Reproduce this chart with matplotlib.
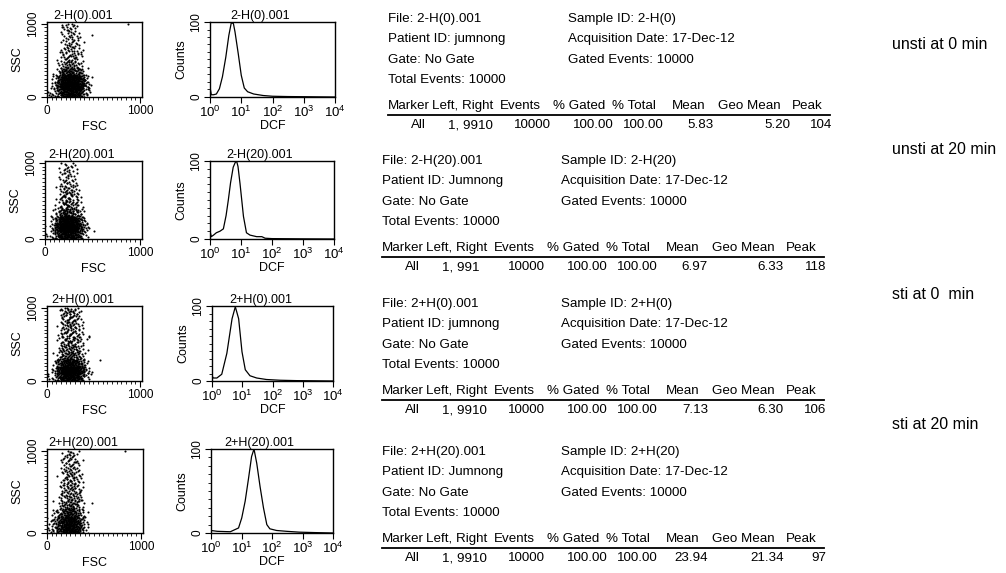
import numpy as np
import matplotlib
matplotlib.use("Agg")
import matplotlib.pyplot as plt
from matplotlib.patches import Rectangle
from matplotlib.ticker import FixedLocator, NullFormatter, LogLocator, FixedFormatter

plt.rcParams['font.family'] = ['Liberation Sans', 'DejaVu Sans']
plt.rcParams['mathtext.fontset'] = 'custom'
plt.rcParams['mathtext.rm'] = 'Liberation Sans'

W, H = 1006, 573

# ---------------------------------------------------------------- sample info
files = ["2-H(0).001", "2-H(20).001", "2+H(0).001", "2+H(20).001"]
sample_ids = ["2-H(0)", "2-H(20)", "2+H(0)", "2+H(20)"]
patient_ids = ["jumnong", "Jumnong", "jumnong", "Jumnong"]
conditions = ["unsti at 0 min", "unsti at 20 min", "sti at 0  min", "sti at 20 min"]
acq_date = "17-Dec-12"
left_right = ["1, 9910", "1, 991", "1, 9910", "1, 9910"]
events = ["10000", "10000", "10000", "10000"]
pct_gated = ["100.00", "100.00", "100.00", "100.00"]
pct_total = ["100.00", "100.00", "100.00", "100.00"]
means = ["5.83", "6.97", "7.13", "23.94"]
geo_means = ["5.20", "6.33", "6.30", "21.34"]
peaks = ["104", "118", "106", "97"]

# ------------------------------------------------ FSC/SSC dot-plot densities
# dots per cell; columns = FSC 0-50, 50-100, ... 450-500,
# rows = SSC 0-100 (first) up to 900-1000 (last)
fsc_bin = 50
ssc_bin = 100
dens_a = [[2, 4, 12, 24, 30, 30, 24, 14, 5, 1],
          [1, 6, 20, 40, 46, 46, 40, 28, 10, 2],
          [0, 3, 14, 32, 38, 38, 32, 20, 6, 1],
          [0, 1, 6, 14, 18, 18, 13, 7, 2, 0],
          [0, 0, 2, 6, 9, 9, 6, 3, 0, 0],
          [0, 0, 1, 5, 7, 7, 5, 2, 0, 0],
          [0, 0, 1, 4, 6, 6, 4, 2, 0, 0],
          [0, 0, 0, 3, 5, 5, 4, 1, 0, 0],
          [0, 0, 0, 3, 5, 5, 3, 1, 0, 0],
          [0, 0, 0, 4, 6, 5, 2, 0, 0, 0]]
dens_b = [[2, 4, 14, 28, 36, 34, 26, 12, 3, 0],
          [1, 7, 22, 44, 52, 50, 38, 20, 6, 1],
          [0, 4, 14, 34, 42, 40, 28, 14, 4, 0],
          [0, 1, 5, 14, 18, 16, 10, 5, 1, 0],
          [0, 0, 2, 8, 10, 10, 6, 3, 0, 0],
          [0, 0, 1, 7, 9, 8, 5, 2, 0, 0],
          [0, 0, 1, 6, 8, 7, 4, 1, 0, 0],
          [0, 0, 0, 4, 6, 5, 3, 0, 0, 0],
          [0, 0, 0, 4, 5, 4, 2, 0, 0, 0],
          [0, 0, 0, 3, 5, 4, 2, 0, 0, 0]]
dens_c = [[2, 4, 14, 28, 34, 34, 26, 14, 4, 1],
          [1, 6, 20, 40, 48, 46, 36, 22, 7, 1],
          [0, 3, 11, 22, 28, 28, 22, 12, 3, 0],
          [0, 1, 4, 10, 12, 12, 10, 5, 1, 0],
          [0, 0, 3, 8, 9, 10, 8, 4, 1, 0],
          [0, 0, 2, 7, 9, 9, 7, 3, 1, 0],
          [0, 0, 2, 6, 8, 8, 6, 3, 1, 0],
          [0, 0, 1, 6, 8, 8, 6, 2, 0, 0],
          [0, 0, 1, 6, 8, 8, 5, 2, 0, 0],
          [0, 0, 1, 6, 9, 8, 5, 1, 0, 0]]
dens_d = [[3, 8, 17, 31, 39, 36, 25, 11, 3, 0],
          [3, 8, 17, 28, 36, 34, 22, 10, 3, 0],
          [0, 4, 8, 17, 22, 21, 14, 6, 1, 0],
          [0, 1, 3, 9, 12, 13, 9, 3, 0, 0],
          [0, 0, 2, 6, 9, 10, 7, 3, 0, 0],
          [0, 0, 1, 6, 9, 9, 6, 2, 0, 0],
          [0, 0, 1, 5, 9, 9, 6, 2, 0, 0],
          [0, 0, 0, 5, 8, 8, 5, 1, 0, 0],
          [0, 0, 0, 4, 7, 7, 4, 1, 0, 0],
          [0, 0, 0, 4, 6, 6, 3, 0, 0, 0]]
# isolated events away from the main population (FSC, SSC)
stray_a = [(480, 850), (870, 995), (40, 20), (30, 60)]
stray_b = [(465, 140), (517, 110), (345, 350)]
stray_c = [(575, 280), (480, 120), (450, 600)]
stray_d = [(480, 360), (830, 1000)]

# ------------------------------------------------------- DCF histograms
dcf_a = [1.0, 1.03, 1.1, 1.3, 1.6, 2.0, 2.5, 3.2, 4.0, 4.8, 5.6, 6.3, 8.0, 10,
         12.5, 16, 25, 50, 100, 300, 1000, 3000, 10000]
cnt_a = [38, 10, 3, 3, 4, 11, 27, 53, 82, 99, 98, 87, 58, 29,
         12, 7, 4, 2, 1, 0.6, 0.4, 0.2, 0]
dcf_b = [1.0, 1.03, 1.1, 1.3, 1.6, 2.1, 2.7, 3.3, 3.9, 4.6, 5.6, 6.5, 7.2, 8.0,
         9.3, 12, 15, 19.5, 32, 47, 60, 100, 1000, 10000]
cnt_b = [25, 8, 3, 5, 8, 10, 13, 30, 50, 72, 92, 98, 100, 93,
         71, 29, 8, 5, 3, 3, 1, 0.5, 0.2, 0]
dcf_c = [1.0, 1.03, 1.1, 1.45, 2.1, 3.1, 4.6, 5.9, 7.6, 9.8, 12.6, 18, 30, 63,
         180, 630, 2000, 10000]
cnt_c = [20, 6, 4, 4, 9, 37, 83, 99, 83, 39, 15, 7, 4, 2,
         1, 0.5, 0.3, 0]
dcf_d = [1.0, 1.6, 4.3, 8.0, 10.2, 13.2, 17, 21.4, 25.7, 31.6, 40.7, 52.5,
         67.6, 85, 141, 302, 794, 2500, 10000]
cnt_d = [3, 2, 1.5, 6, 18, 38, 65, 91, 100, 83, 55, 30,
         10, 5, 3, 2, 1, 0.5, 0]

densities = [dens_a, dens_b, dens_c, dens_d]
strays = [stray_a, stray_b, stray_c, stray_d]
hists = [(dcf_a, cnt_a), (dcf_b, cnt_b), (dcf_c, cnt_c), (dcf_d, cnt_d)]

# ------------------------------------------------------------ layout (px)
scatter_box = [(47, 22, 142, 97), (45, 161, 142, 239),
               (47, 306, 142, 381), (47, 449, 143, 533)]
hist_box = [(210, 22, 335, 97), (210, 161, 334, 239),
            (212, 306, 333, 381), (211, 449, 333, 533)]
text_x0 = [388, 382, 382, 382]
text_col2 = [568, 561, 561, 561]
text_y0 = [18, 160, 303, 451]
cond_y = [45, 150, 295, 425]
cond_x = 892

FS = 8.5


def px_axes(fig, box):
    x0, y0, x1, y1 = box
    return fig.add_axes([x0 / W, 1 - y1 / H, (x1 - x0) / W, (y1 - y0) / H])


def halton(i, b):
    f, r = 1.0, 0.0
    while i > 0:
        f /= b
        r += f * (i % b)
        i //= b
    return r


def dot_positions(grid):
    xs, ys = [], []
    k = 1
    for r, row in enumerate(grid):
        for c, n in enumerate(row):
            for _ in range(n):
                xs.append(c * fsc_bin + halton(k, 2) * fsc_bin)
                ys.append(r * ssc_bin + halton(k, 3) * ssc_bin)
                k += 1
    return np.array(xs), np.array(ys)


def style_frame(ax):
    for s in ax.spines.values():
        s.set_linewidth(1.0)
        s.set_color('black')
    ax.tick_params(which='both', direction='out', colors='black',
                   labelsize=FS, top=False, right=False, pad=1.5)
    ax.tick_params(which='major', length=4, width=0.8)
    ax.tick_params(which='minor', length=2, width=0.6)


fig = plt.figure(figsize=(W / 100, H / 100), dpi=100)
fig.patch.set_facecolor('white')

for i in range(4):
    # ---- FSC vs SSC dot plot
    ax = px_axes(fig, scatter_box[i])
    xs, ys = dot_positions(densities[i])
    ax.plot(xs, ys, ls='none', marker='o', ms=1.5, mew=0, color='black')
    sx, sy = zip(*strays[i])
    ax.plot(sx, sy, ls='none', marker='o', ms=1.5, mew=0, color='black')
    ax.set_xlim(0, 1023)
    ax.set_ylim(0, 1023)
    ax.xaxis.set_major_locator(FixedLocator([0, 1000]))
    ax.yaxis.set_major_locator(FixedLocator([0, 1000]))
    ax.xaxis.set_minor_locator(FixedLocator(np.arange(0, 1001, 50)))
    ax.yaxis.set_minor_locator(FixedLocator(np.arange(0, 1001, 50)))
    style_frame(ax)
    for lab in ax.get_yticklabels():
        lab.set_rotation(90)
        lab.set_va('center')
    ax.set_xlabel("FSC", fontsize=FS + 0.5, labelpad=3)
    ax.set_ylabel("SSC", fontsize=FS + 0.5, labelpad=3)
    ax.set_title(files[i], fontsize=FS + 0.5, pad=1.5, x=0.38)

    # ---- DCF histogram
    hx = px_axes(fig, hist_box[i])
    d, c = hists[i]
    hx.plot(d, c, color='black', lw=0.9)
    hx.set_xscale('log')
    hx.set_xlim(1, 1e4)
    hx.set_ylim(0, 100)
    hx.xaxis.set_major_locator(FixedLocator([1, 10, 100, 1000, 10000]))
    hx.xaxis.set_major_formatter(FixedFormatter(
        [r"$10^0$", r"$10^1$", r"$10^2$", r"$10^3$", r"$10^4$"]))
    hx.xaxis.set_minor_locator(LogLocator(base=10, subs=np.arange(2, 10)))
    hx.xaxis.set_minor_formatter(NullFormatter())
    hx.yaxis.set_major_locator(FixedLocator([0, 100]))
    hx.yaxis.set_minor_locator(FixedLocator(np.arange(0, 101, 10)))
    style_frame(hx)
    hx.tick_params(axis='x', labelsize=FS + 1)
    for lab in hx.get_yticklabels():
        lab.set_rotation(90)
        lab.set_va('center')
    hx.set_xlabel("DCF", fontsize=FS + 0.5, labelpad=0)
    hx.set_ylabel("Counts", fontsize=FS + 0.5, labelpad=2)
    hx.set_title(files[i], fontsize=FS + 0.5, pad=1.5, x=0.4)

# ---- statistics text, in pixel coordinates (y = text middle, baseline below)
ov = fig.add_axes([0, 0, 1, 1], zorder=-1)
ov.set_xlim(0, W)
ov.set_ylim(H, 0)
ov.axis('off')

TF = 9.6
BL = 3.6          # baseline offset below the text middle
line_gap = 20.5
heads = [("Marker", 0), ("Left, Right", 44), ("Events", 112),
         ("% Gated", 165), ("% Total", 224), ("Mean", 284),
         ("Geo Mean", 330), ("Peak", 404)]


def put(x, y, s, ha='left', size=TF):
    return ov.text(x, y + BL, s, fontsize=size, va='baseline', ha=ha)


for i in range(4):
    x0, c2, y0 = text_x0[i], text_col2[i], text_y0[i]
    put(x0, y0, f"File: {files[i]}")
    put(x0, y0 + line_gap, f"Patient ID: {patient_ids[i]}")
    put(x0, y0 + 2 * line_gap, "Gate: No Gate")
    put(x0, y0 + 3 * line_gap, "Total Events: 10000")
    put(c2, y0, f"Sample ID: {sample_ids[i]}")
    t = put(c2, y0 + line_gap, f"Acquisition Date: {acq_date}")
    t.set_clip_path(Rectangle((c2, y0), 162, 2 * line_gap, transform=ov.transData))
    put(c2, y0 + 2 * line_gap, "Gated Events: 10000")

    hy = y0 + 3 * line_gap + 26
    for name, dx in heads:
        put(x0 + dx, hy, name)
    ov.plot([x0, x0 + 442], [hy + 9, hy + 9], color='black', lw=1.3)
    dy = hy + 19
    put(x0 + 30, dy, "All", ha='center')
    t = put(x0 + 60, dy, left_right[i])
    t.set_clip_path(Rectangle((x0 + 60, dy - 10), 38, 20, transform=ov.transData))
    put(x0 + 163, dy, events[i], ha='right')
    put(x0 + 226, dy, pct_gated[i], ha='right')
    put(x0 + 276, dy, pct_total[i], ha='right')
    put(x0 + 326, dy, means[i], ha='right')
    put(x0 + 402, dy, geo_means[i], ha='right')
    put(x0 + 444, dy, peaks[i], ha='right')

    put(cond_x, cond_y[i], conditions[i], size=11.5)

fig.savefig("out.png", dpi=100, facecolor='white')
